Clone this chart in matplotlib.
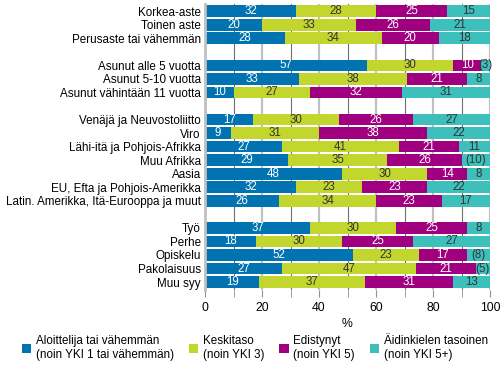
import matplotlib
matplotlib.use('Agg')
import matplotlib.pyplot as plt
from matplotlib.patches import Patch

plt.rcParams['font.family'] = ['Liberation Sans', 'DejaVu Sans']

categories = [
    "Korkea-aste", "Toinen aste", "Perusaste tai vähemmän", None,
    "Asunut alle 5 vuotta", "Asunut 5-10 vuotta", "Asunut vähintään 11 vuotta", None,
    "Venäjä ja Neuvostoliitto", "Viro", "Lähi-itä ja Pohjois-Afrikka", "Muu Afrikka",
    "Aasia", "EU, Efta ja Pohjois-Amerikka", "Latin. Amerikka, Itä-Eurooppa ja muut", None,
    "Työ", "Perhe", "Opiskelu", "Pakolaisuus", "Muu syy",
]
aloittelija = [32, 20, 28, None, 57, 33, 10, None, 17, 9, 27, 29, 48, 32, 26, None, 37, 18, 52, 27, 19]
keskitaso = [28, 33, 34, None, 30, 38, 27, None, 30, 31, 41, 35, 30, 23, 34, None, 30, 30, 23, 47, 37]
edistynyt = [25, 26, 20, None, 10, 21, 32, None, 26, 38, 21, 26, 14, 23, 23, None, 25, 25, 17, 21, 31]
aidinkieli = [15, 21, 18, None, 3, 8, 31, None, 27, 22, 11, 10, 8, 22, 17, None, 8, 27, 8, 5, 13]
# values shown in parentheses (uncertain estimates)
uncertain_aidinkieli = ["Asunut alle 5 vuotta", "Muu Afrikka", "Opiskelu", "Pakolaisuus"]

series = [aloittelija, keskitaso, edistynyt, aidinkieli]
colors = ["#0073b0", "#c3d62e", "#a0007f", "#3dbfbc"]
text_colors = ["white", "#333333", "white", "#333333"]
legend_labels = [
    "Aloittelija tai vähemmän\n(noin YKI 1 tai vähemmän)",
    "Keskitaso\n(noin YKI 3)",
    "Edistynyt\n(noin YKI 5)",
    "Äidinkielen tasoinen\n(noin YKI 5+)",
]

fig = plt.figure(figsize=(5, 3.75), dpi=100)
ax = fig.add_axes([0.41, 0.228, 0.57, 0.762])

n = len(categories)

# grid lines
for x in range(0, 101, 10):
    if x % 20 == 0:
        ax.axvline(x, color="#c0c0c0", lw=1.6, zorder=0)
    else:
        ax.axvline(x, color="#707070", lw=0.8, zorder=0)

for i, cat in enumerate(categories):
    if cat is None:
        continue
    left = 0
    for s, vals in enumerate(series):
        v = vals[i]
        ax.barh(i, v, left=left, height=0.86, color=colors[s], zorder=2)
        label = str(v)
        if s == 3 and cat in uncertain_aidinkieli:
            label = f"({v})"
        ax.text(left + v / 2, i, label, ha="center", va="center",
                fontsize=8.3, color=text_colors[s], zorder=3, clip_on=False)
        left += v

ax.set_xlim(0, 100)
ax.set_ylim(n - 0.45, -0.55)
ax.set_yticks([i for i, c in enumerate(categories) if c is not None])
ax.set_yticklabels([c for c in categories if c is not None], fontsize=8.4)
ax.tick_params(axis="y", length=0, pad=3)
ax.set_xticks(range(0, 101, 20))
ax.set_xticks(range(0, 101, 10), minor=True)
ax.tick_params(axis="x", which="both", length=5, color="#909090", labelsize=8.8, pad=4)
ax.set_xlabel("%", fontsize=8.8, labelpad=3)
for side in ["top", "right", "bottom"]:
    ax.spines[side].set_visible(False)
ax.spines["left"].set_color("#c0c0c0")
ax.spines["left"].set_linewidth(2)
ax.set_facecolor("white")

handles = [Patch(facecolor=c, edgecolor="none") for c in colors]
fig.legend(handles, legend_labels, loc="lower center", bbox_to_anchor=(0.51, 0.01),
           ncol=4, frameon=False, fontsize=8.4, handlelength=0.8, handleheight=0.8,
           handletextpad=0.4, columnspacing=1.3)

fig.savefig("out.png", dpi=100)
